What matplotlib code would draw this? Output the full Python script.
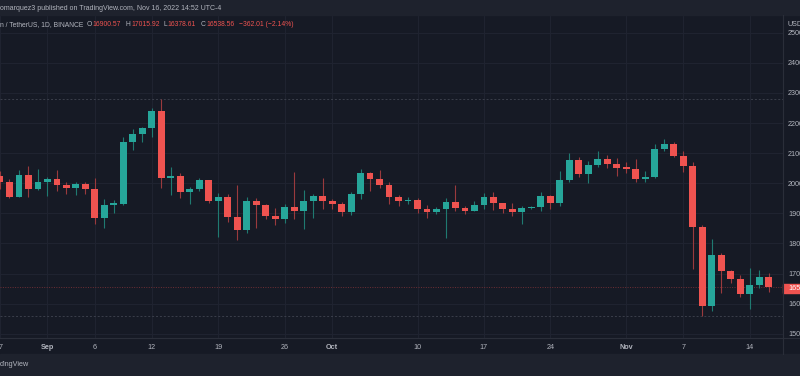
import numpy as np
import pandas as pd
import matplotlib.pyplot as plt
import matplotlib.transforms as mtransforms
from matplotlib.patches import Rectangle
from matplotlib.lines import Line2D

plt.rcParams['font.family'] = ['Liberation Sans', 'DejaVu Sans']

# ============================================================
# BTC / USDT daily candles (Binance), 27 Aug - 16 Nov 2022
# values
# ============================================================
dates = pd.date_range("2022-08-27", "2022-11-16", freq="D")

opens = [20241, 20037, 19555, 20285, 19812,
         20050, 20127, 19952, 19832, 19987, 19812, 18837, 19290, 19320, 21361,
         21649, 21826, 22395, 20173, 20226, 19701, 19803, 20113, 19416, 19538,
         18876, 18461, 19401, 19289, 18921, 18807, 19227, 19080, 19412, 19591,
         19422, 19310, 19056, 19629, 20337, 20158, 19955, 19531, 19417, 19446,
         19141, 19051, 19157, 19382, 19185, 19068, 19268, 19550, 19334, 19139,
         19053, 19172, 19208, 19567, 19345, 20095, 20771, 20295, 20592, 20818,
         20635,
         20495, 20485, 20159, 20209, 21148, 21299, 20905, 20591, 18541, 15922,
         17601, 17070, 16813, 16330, 16619, 16900.57]

highs = [20402, 20148, 20433, 20580, 20490,
         20208, 20444, 20055, 20029, 20058, 20180, 19464, 19450, 21550, 21800,
         21860, 22488, 22799, 20541, 20330, 19882, 20189, 20113, 19689, 19634,
         19956, 19550, 19500, 19316, 19180, 19316, 20385, 19790, 19645, 20185,
         19484, 19395, 19719, 20475, 20365, 20456, 20059, 19621, 19560, 19522,
         19264, 19214, 19513, 19951, 19229, 19424, 19690, 19709, 19360, 19345,
         19250, 19248, 19695, 19601, 20415, 21020, 20875, 20750, 21085, 20931,
         20840,
         20700, 20800, 20394, 21302, 21480, 21365, 21069, 20700, 18600, 18150,
         17700, 17109, 16955, 17190, 17134, 17015.92]

lows = [19800, 19520, 19536, 19540, 19790,
        19565, 19755, 19651, 19595, 19635, 18650, 18510, 19000, 19290, 21111,
        21360, 21538, 19860, 19617, 19497, 19320, 19748, 19335, 18232, 18711,
        18125, 18356, 18531, 18805, 18629, 18680, 18816, 18471, 18843, 19155,
        19160, 18920, 18958, 19490, 19730, 19854, 19320, 19250, 19320, 19020,
        18860, 18965, 18190, 19070, 18975, 19063, 19160, 19097, 19000, 18900,
        18650, 19132, 19070, 19157, 19240, 20050, 20200, 20000, 20554, 20515,
        20237,
        20330, 20048, 20036, 20180, 21080, 20880, 20384, 17166, 15588, 15754,
        16361, 16686, 16229, 15815, 16525, 16378.61]

closes = [20037, 19555, 20285, 19812, 20050,
          20127, 19952, 19832, 19987, 19812, 18837, 19290, 19320, 21361, 21649,
          21826, 22395, 20173, 20226, 19701, 19803, 20113, 19416, 19538, 18876,
          18461, 19401, 19289, 18921, 18807, 19227, 19080, 19412, 19591, 19422,
          19310, 19056, 19629, 20337, 20158, 19955, 19531, 19417, 19446, 19141,
          19051, 19157, 19382, 19185, 19068, 19268, 19550, 19334, 19139, 19053,
          19172, 19208, 19567, 19345, 20095, 20771, 20295, 20592, 20818, 20635,
          20495,
          20485, 20159, 20209, 21148, 21299, 20905, 20591, 18541, 15922, 17601,
          17070, 16813, 16330, 16619, 16900.57, 16538.56]

tick_dates = ["2022-08-27", "2022-09-01", "2022-09-06", "2022-09-12", "2022-09-19",
              "2022-09-26", "2022-10-01", "2022-10-10", "2022-10-17", "2022-10-24",
              "2022-11-01", "2022-11-07", "2022-11-14"]
tick_labels = ["27", "Sep", "6", "12", "19", "26", "Oct", "10", "17", "24", "Nov", "7", "14"]
month_labels = ["Sep", "Oct", "Nov"]

price_ticks = list(range(15000, 25001, 1000))

header_text = "omarquez3 published on TradingView.com, Nov 16, 2022 14:52 UTC-4"
symbol_text = "n / TetherUS, 1D, BINANCE"
footer_text = "dingView"

# ============================================================
# Colours
# ============================================================
BG = "#161a25"
BAR = "#1e222d"
GRID = "#1f2330"
SEP = "#2a2e39"
TXT = "#b2b5be"
UP = "#26a69a"
DOWN = "#ef5350"
UP_WICK = "#1f7a71"
DOWN_WICK = "#9a3a3d"

W, H = 800, 376
FS = 5.2

o = np.array(opens, dtype=float)
h = np.array(highs, dtype=float)
l = np.array(lows, dtype=float)
c = np.array(closes, dtype=float)
assert len(o) == len(h) == len(l) == len(c) == len(dates)

ref = pd.Timestamp("2022-09-01")
x = np.array((dates - ref).days, dtype=float)
tx = np.array((pd.to_datetime(tick_dates) - ref).days, dtype=float)

fig = plt.figure(figsize=(W / 100, H / 100), dpi=100, facecolor=BG)

# header and footer bars
fig.patches.append(Rectangle((0, 1 - 15 / H), 1, 15 / H, transform=fig.transFigure,
                             color=BAR, zorder=0))
fig.patches.append(Rectangle((0, 0), 1, 22 / H, transform=fig.transFigure,
                             color=BAR, zorder=0))

ax = fig.add_axes([0, 38 / H, 783 / W, 322 / H])
ax.set_facecolor(BG)

# pixel scale: Sep 1 at x=45.8 px, 9.51 px per day
ax.set_xlim(-45.8 / 9.51, (783 - 45.8) / 9.51)
ax.set_ylim(14860, 25558)

for s in ax.spines.values():
    s.set_visible(False)

ax.set_xticks(tx)
ax.set_xticklabels(tick_labels)
for lab in ax.get_xticklabels():
    lab.set_color(TXT)
    lab.set_fontsize(FS)
    if lab.get_text() in month_labels:
        lab.set_fontweight("bold")
ax.tick_params(axis="x", length=0, pad=4.3)

ax.yaxis.tick_right()
ax.set_yticks(price_ticks)
ax.set_yticklabels([f"{v:.2f}" for v in price_ticks])
ax.tick_params(axis="y", length=0, pad=3.6, labelsize=FS, labelcolor=TXT)

ax.grid(True, color=GRID, linewidth=0.8)
ax.set_axisbelow(True)

# high / low of the visible range and last price line
ax.axhline(h.max(), color="#3b3f4b", linewidth=0.7, linestyle=(0, (2, 2)), zorder=1)
ax.axhline(l.min(), color="#3b3f4b", linewidth=0.7, linestyle=(0, (2, 2)), zorder=1)
ax.axhline(c[-1], color="#6e2f35", linewidth=0.7, linestyle=(0, (1, 1.5)), zorder=1)

# candles
up = c >= o
wick_cols = np.where(up, UP_WICK, DOWN_WICK)
body_cols = np.where(up, UP, DOWN)
ax.vlines(x, l, h, colors=wick_cols, linewidth=0.8, zorder=2)
body_h = np.maximum(np.abs(c - o), 40)
body_b = np.minimum(o, c)
ax.bar(x, body_h, bottom=body_b, width=0.72, color=body_cols, linewidth=0, zorder=3)

# last price tag on the price scale
blend = mtransforms.blended_transform_factory(ax.transAxes, ax.transData)
ax.add_patch(Rectangle((1.0, c[-1] - 190), 0.03, 320, transform=blend,
                       color=DOWN, clip_on=False, zorder=5))
ax.text(1.0, c[-1] - 30, f"{c[-1]:.2f}",
        transform=blend + mtransforms.ScaledTranslation(5 / 100, 0, fig.dpi_scale_trans),
        ha="left", va="center", fontsize=FS, color="white", clip_on=False, zorder=6)

# separators
fig.add_artist(Line2D([783 / W, 783 / W], [22 / H, 1 - 15 / H], color=SEP, linewidth=0.8))
fig.add_artist(Line2D([0, 1], [38 / H, 38 / H], color=SEP, linewidth=0.8))

# currency label
fig.text(788 / W, 1 - 24 / H, "USDT", fontsize=FS, color=TXT, va="center", ha="left")

# header + symbol legend
fig.text(0, 1 - 9 / H, header_text, fontsize=5.0, color=TXT, va="center", ha="left")
fig.text(0, 1 - 25 / H, symbol_text, fontsize=4.85, color=TXT, va="center", ha="left")

chg = c[-1] - o[-1]
pct = chg / o[-1] * 100
legend_items = [("O", f"{o[-1]:.2f}", 86.5),
                ("H", f"{h[-1]:.2f}", 126.0),
                ("L", f"{l[-1]:.2f}", 163.5),
                ("C", f"{c[-1]:.2f}", 200.5)]
renderer = fig.canvas.get_renderer()
for key, val, px in legend_items:
    t = fig.text(px / W, 1 - 25 / H, key, fontsize=4.9, color=TXT, va="center", ha="left")
    bb = t.get_window_extent(renderer)
    fig.text((bb.x1 + 0.6) / W, 1 - 25 / H, val, fontsize=4.9, color=DOWN,
             va="center", ha="left")
chg_txt = f"{chg:.2f} ({pct:.2f}%)".replace("-", "\u2212")
fig.text(238.7 / W, 1 - 25 / H, chg_txt, fontsize=4.9, color=DOWN, va="center", ha="left")

# footer logo text
fig.text(0, 11 / H, footer_text, fontsize=5.2, color=TXT, va="center", ha="left")

plt.savefig("out.png", dpi=100, facecolor=BG)
